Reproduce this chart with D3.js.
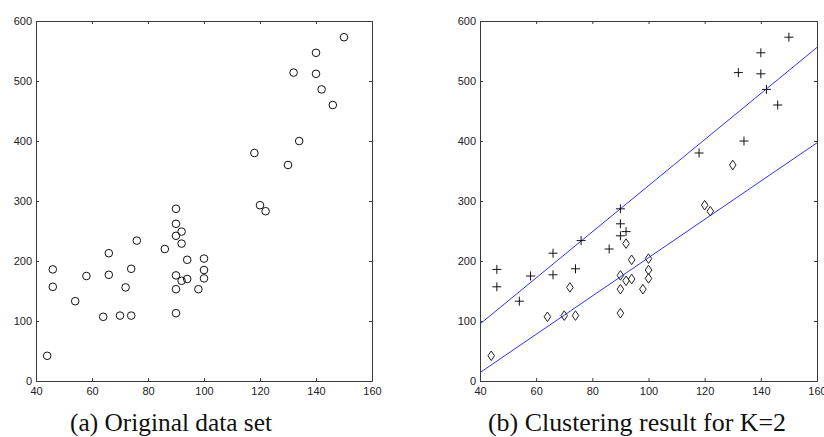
<!DOCTYPE html>
<html><head><meta charset="utf-8">
<script src="https://cdn.jsdelivr.net/npm/d3@7"></script>
<style>body{margin:0;background:#fff}svg{display:block}</style>
</head><body>
<svg id="c" width="824" height="437"></svg>
<script>
// Data (x, y)
const clusterPlusX = [46,46,54,58,66,66,74,76,86,90,90,90,92,118,134,132,140,140,142,146,150];
const clusterPlusY = [186,157,133,175,213,177,187,234,220,287,262,242,249,380,400,514,547,512,486,460,573];
const clusterDiamondX = [44,64,70,72,74,90,90,90,92,92,94,94,98,100,100,100,120,122,130];
const clusterDiamondY = [42,107,109,156,109,176,153,113,229,167,202,170,153,204,185,171,293,283,360];
const upperLineX = [40,160];
const upperLineY = [95,556];
const lowerLineX = [40,160];
const lowerLineY = [14,397];
const xTicks = [40,60,80,100,120,140,160];
const yTicks = [0,100,200,300,400,500,600];
const captions = ["(a) Original data set","(b) Clustering result for K=2"];

const svg = d3.select("#c");
const panels = [
  {x0:36, x1:372, cap:captions[0], capX:171, capW:202},
  {x0:480, x1:817, cap:captions[1], capX:637, capW:298}
];
const plotTop = 21, plotBottom = 381;
const frameCol = "#3a3a3a";
const fontTick = "'Liberation Sans Narrow','Liberation Sans',Arial,sans-serif";

panels.forEach((p, i) => {
  const x = d3.scaleLinear().domain([40,160]).range([p.x0, p.x1]);
  const y = d3.scaleLinear().domain([0,600]).range([plotBottom, plotTop]);
  const g = svg.append("g");

  // axes (MATLAB style: inward ticks on all sides)
  const ax = g.append("g").attr("transform",`translate(0,${plotBottom})`)
    .call(d3.axisBottom(x).tickValues(xTicks).tickSizeInner(-3).tickSizeOuter(0).tickPadding(6));
  const ay = g.append("g").attr("transform",`translate(${p.x0},0)`)
    .call(d3.axisLeft(y).tickValues(yTicks).tickSizeInner(-3).tickSizeOuter(0).tickPadding(4));
  const at = g.append("g").attr("transform",`translate(0,${plotTop})`)
    .call(d3.axisTop(x).tickValues(xTicks).tickSizeInner(-3).tickSizeOuter(0).tickFormat(""));
  const ar = g.append("g").attr("transform",`translate(${p.x1},0)`)
    .call(d3.axisRight(y).tickValues(yTicks).tickSizeInner(-3).tickSizeOuter(0).tickFormat(""));
  [ax,ay,at,ar].forEach(a => {
    a.selectAll("path,line").attr("stroke", frameCol).attr("stroke-width",1);
    a.selectAll("text").attr("fill","#222").style("font-family",fontTick).style("font-size","11px");
  });

  g.append("text").attr("x", p.capX).attr("y", 431).attr("text-anchor","middle")
    .attr("textLength", p.capW).attr("lengthAdjust","spacingAndGlyphs")
    .style("font-family","'Liberation Serif','DejaVu Serif',serif").style("font-size","25px")
    .attr("fill","#111").text(p.cap);

  const allX = clusterPlusX.concat(clusterDiamondX);
  const allY = clusterPlusY.concat(clusterDiamondY);

  if (i === 0) {
    g.selectAll("circle.pt").data(allX.map((d,k)=>[d, allY[k]])).enter().append("circle")
      .attr("cx", d=>x(d[0])).attr("cy", d=>y(d[1])).attr("r",3.8)
      .attr("fill","none").attr("stroke","#111").attr("stroke-width",1);
  } else {
    const line = d3.line().x(d=>x(d[0])).y(d=>y(d[1]));
    [[upperLineX,upperLineY],[lowerLineX,lowerLineY]].forEach(([lx,ly]) => {
      g.append("path").datum(lx.map((d,k)=>[d, ly[k]])).attr("d", line)
        .attr("fill","none").attr("stroke","#3030ff").attr("stroke-width",1);
    });
    g.selectAll("path.plus").data(clusterPlusX.map((d,k)=>[d, clusterPlusY[k]])).enter().append("path")
      .attr("d", d => { const cx=x(d[0]), cy=y(d[1]), s=4.5; return `M${cx-s},${cy}H${cx+s}M${cx},${cy-s}V${cy+s}`; })
      .attr("stroke","#111").attr("stroke-width",1).attr("fill","none");
    g.selectAll("path.dia").data(clusterDiamondX.map((d,k)=>[d, clusterDiamondY[k]])).enter().append("path")
      .attr("d", d => { const cx=x(d[0]), cy=y(d[1]), w=3.3, h=4.8; return `M${cx},${cy-h}L${cx+w},${cy}L${cx},${cy+h}L${cx-w},${cy}Z`; })
      .attr("stroke","#222").attr("stroke-width",1).attr("fill","none");
  }
});
</script>
</body></html>
